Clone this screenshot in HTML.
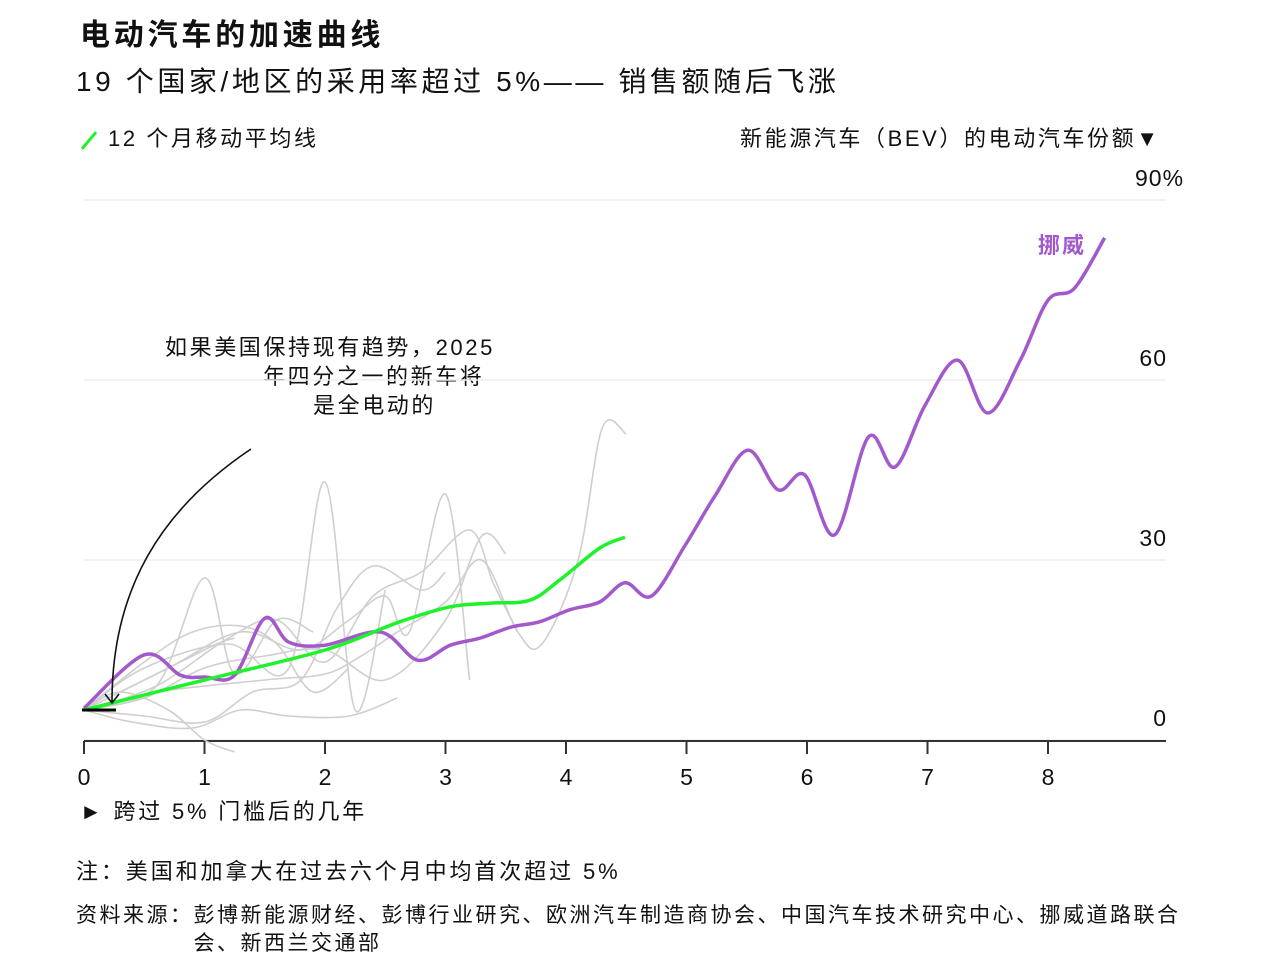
<!DOCTYPE html>
<html><head><meta charset="utf-8">
<style>
body{margin:0;background:#fff;font-family:"Liberation Sans","Noto Sans CJK SC",sans-serif;color:#111}
.t{position:absolute;white-space:nowrap}
</style></head>
<body>
<div style="position:relative;width:1268px;height:980px;overflow:hidden">
<div class="t" style="left:80px;top:10px;font-size:30px;font-weight:bold;letter-spacing:3.8px">电动汽车的加速曲线</div>
<div class="t" style="left:76px;top:60px;font-size:28px;letter-spacing:3.6px">19 个国家/地区的采用率超过 5%—— 销售额随后飞涨</div>
<div class="t" style="left:78px;top:121px;font-size:22px;letter-spacing:2.6px"><span style="display:inline-block;width:22px;height:3px;background:#1ef22a;transform:rotate(-50deg);vertical-align:middle;margin-right:8px"></span>12 个月移动平均线</div>
<div class="t" style="left:740px;top:121px;font-size:22px;letter-spacing:2.6px">新能源汽车（BEV）的电动汽车份额▼</div>
<div class="t" style="left:80px;top:794px;font-size:22px;letter-spacing:2.8px">► 跨过 5% 门槛后的几年</div>
<div class="t" style="left:76px;top:854px;font-size:22px;letter-spacing:2.9px">注：美国和加拿大在过去六个月中均首次超过 5%</div>
<div class="t" style="left:76px;top:902px;font-size:21px;line-height:28px;letter-spacing:2.5px">资料来源：<span style="display:inline-block;vertical-align:top;white-space:normal;width:1012px">彭博新能源财经、彭博行业研究、欧洲汽车制造商协会、中国汽车技术研究中心、挪威道路联合会、新西兰交通部</span></div>
<div style="position:absolute;left:0;top:0;font-size:22px;letter-spacing:2.6px">
<div class="t" style="left:165px;top:330px">如果美国保持现有趋势，2025</div>
<div class="t" style="left:263px;top:359px">年四分之一的新车将</div>
<div class="t" style="left:313px;top:388px">是全电动的</div>
</div>
<svg id="c" width="1268" height="980" style="position:absolute;left:0;top:0"></svg>
</div>
<script>
const xTicks=[0,1,2,3,4,5,6,7,8];
const yTicks=[0,30,60,90];
const norwayX=[0,0.5,0.8,1,1.25,1.5,1.7,2,2.46,2.77,3.04,3.29,3.54,3.78,4.03,4.28,4.49,4.71,4.99,5.24,5.51,5.76,5.98,6.23,6.51,6.73,6.98,7.25,7.5,7.77,8,8.22,8.47];
const norwayY=[5.3,14.2,10.8,10.5,10.8,20.3,16.3,15.8,18,13.3,15.8,17,18.8,19.7,21.7,23,26.2,24,32.5,40.8,48.3,41.7,44.2,34.2,50.5,45.5,55.8,63.3,54.5,63.3,73.3,75.3,83.7];
const avgX=[0,1,2,2.62,3.04,3.37,3.7,3.95,4.28,4.49];
const avgY=[5,10,15,19.7,22.2,22.8,23.3,26.7,32,33.8];
const grayX=[
[0,0.6,1.5,2.0,2.3,2.6,3.0,3.3,3.6,3.8,4.1,4.3,4.5],
[0,0.5,1.2,1.7,2.0,2.25,2.5],
[0,0.6,1.0,1.25,1.6,1.9],
[0,0.7,1.3,1.8,2.2,2.5,2.7,3.0,3.2],
[0,0.6,1.2,1.6,2.0,2.4,2.8,3.2,3.4,3.6],
[0,0.5,1.0,1.5,2.0,2.5,3.0,3.3,3.5],
[0,0.5,0.9,1.3,1.6,1.9,2.2],
[0,0.4,0.8,1.1,1.25],
[0,0.5,1.0,1.4,1.8,2.1,2.4,2.8,3.0],
[0,0.4,0.9,1.3,1.7,2.2,2.6],
[0,0.3,0.7,1.0,1.25]];
const grayY=[
[5,8,10,11,14,18,23,30,18,16,30,52,51],
[5,12,16,12,43,5,25],
[5,9,27,11,20,18],
[5,12,18,15,20,24,18,41,10],
[5,9,17,20,13,24,28,35,26,18],
[5,7,12,14,15,10,20,34,31],
[5,13,18,19,16,8,12],
[5,9,13,16,17],
[5,4,3,8,10,22,29,25,28],
[5,3,2,5,4,4,7],
[5,8,5,0,-2]];
const X=v=>84+v*120.5, Y=v=>740-v*6;
const svg=document.getElementById('c');
const NS='http://www.w3.org/2000/svg';
function mk(t,a){const e=document.createElementNS(NS,t);for(const k in a)e.setAttribute(k,a[k]);svg.appendChild(e);return e;}
function path(xs,ys){const p=xs.map((x,i)=>[X(x),Y(ys[i])]);let d='M'+p[0][0]+','+p[0][1];
for(let i=0;i<p.length-1;i++){const p0=p[i-1]||p[i],p1=p[i],p2=p[i+1],p3=p[i+2]||p2;
d+=' C'+(p1[0]+(p2[0]-p0[0])/6)+','+(p1[1]+(p2[1]-p0[1])/6)+' '+(p2[0]-(p3[0]-p1[0])/6)+','+(p2[1]-(p3[1]-p1[1])/6)+' '+p2[0]+','+p2[1];}return d;}
yTicks.forEach(v=>{
const g=mk('line',{x1:84,x2:1166,y1:Y(v),y2:Y(v),stroke:'#eee','stroke-width':1.5});


const last=v==90;
const t=mk('text',{x:last?1135:1167,y:Y(v)-14,'text-anchor':last?'start':'end','font-size':23,'letter-spacing':1,fill:'#111'});t.textContent=v+(last?'%':'');


});
const ax=mk('line',{x1:84,x2:1166,y1:741,y2:741,stroke:'#333','stroke-width':2});


xTicks.forEach(v=>{
const l=mk('line',{x1:X(v),x2:X(v),y1:741,y2:754,stroke:'#333','stroke-width':2});


const t=mk('text',{x:X(v),y:785,'text-anchor':'middle','font-size':23,fill:'#111'});t.textContent=v;


});
grayX.forEach((xs,i)=>{
const p=mk('path',{d:path(xs,grayY[i]),fill:'none',stroke:'#cfcfcf','stroke-width':1.6});


});
const n=mk('path',{d:path(norwayX,norwayY),fill:'none',stroke:'#a259cc','stroke-width':3.5});


const a=mk('path',{d:path(avgX,avgY),fill:'none',stroke:'#1ef22a','stroke-width':3.5});


const nl=mk('text',{x:1086,y:253,'text-anchor':'end','font-size':22,'font-weight':'bold','letter-spacing':2,fill:'#a259cc'});nl.textContent='挪威';


const us=mk('line',{x1:82,x2:116,y1:710,y2:710,stroke:'#000','stroke-width':3});


const ar=mk('path',{d:'M251,449 C160,510 112,590 112,702 M105,694 L112,703 L119,694',fill:'none',stroke:'#111','stroke-width':1.6});


</script>
</body></html>
